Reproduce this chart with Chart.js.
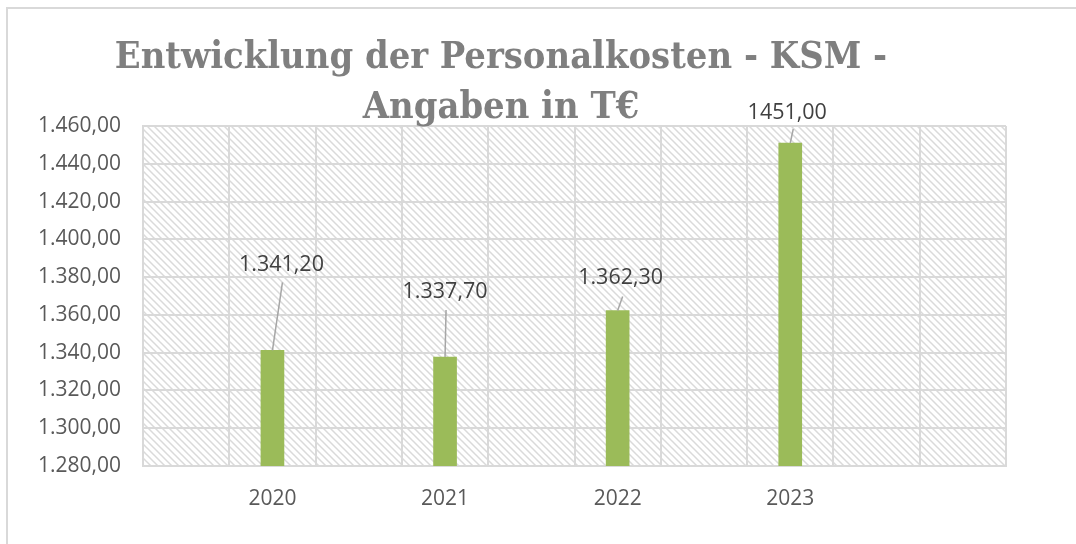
<!DOCTYPE html>
<html>
<head>
<meta charset="utf-8">
<script src="https://cdn.jsdelivr.net/npm/chart.js@4/dist/chart.umd.min.js"></script>
<style>
  html, body { margin: 0; padding: 0; background: #ffffff; overflow: hidden; }
  #wrap { position: relative; width: 1076px; height: 544px; }
</style>
</head>
<body>
<div id="wrap"><canvas id="c"></canvas></div>
<script>
// ---- data ----
const years = ['2020', '2021', '2022', '2023'];
const costs = [1341.2, 1337.7, 1362.3, 1451.0];
const costLabels = ['1.341,20', '1.337,70', '1.362,30', '1451,00'];
const titleLines = ['Entwicklung der Personalkosten - KSM -', 'Angaben in T€'];
const yMin = 1280, yMax = 1460, yStep = 20;

// category slots: each year sits in the second half of a two-slot group
const slotLabels = [];
const slotValues = [];
years.forEach((y, i) => { slotLabels.push(''); slotValues.push(null); slotLabels.push(y); slotValues.push(costs[i]); });
slotLabels.push('', ''); slotValues.push(null, null);

function fmtDE(v) {
  const fixed = v.toFixed(2);
  let [int, dec] = fixed.split('.');
  int = int.replace(/\B(?=(\d{3})+(?!\d))/g, '.');
  return int + ',' + dec;
}

const GRID = '#d9d9d9';
const FONT = "'Open Sans', 'Noto Sans', sans-serif";

// label offsets relative to bar top centre (style/position only)
const labelPos = [
  { dx: 9, dy: -86, sx: 1, sy: 18 },
  { dx: 0, dy: -65, sx: 1, sy: 18 },
  { dx: 3, dy: -33, sx: 2, sy: 19 },
  { dx: -3, dy: -30, sx: 6, sy: 16 }
];

function makePattern() {
  const s = 7;
  const p = document.createElement('canvas');
  p.width = s; p.height = s;
  const g = p.getContext('2d');
  g.fillStyle = '#ffffff';
  g.fillRect(0, 0, s, s);
  g.strokeStyle = '#dadada';
  g.lineWidth = 1.5;
  g.beginPath();
  g.moveTo(0, 0); g.lineTo(s, s);
  g.moveTo(-1, s - 1); g.lineTo(1, s + 1);
  g.moveTo(s - 1, -1); g.lineTo(s + 1, 1);
  g.stroke();
  return p;
}

const bgPlugin = {
  id: 'bg',
  beforeDraw(chart) {
    const { ctx, chartArea: a } = chart;
    ctx.save();
    ctx.fillStyle = '#ffffff';
    ctx.fillRect(0, 0, chart.width, chart.height);
    ctx.fillStyle = ctx.createPattern(makePattern(), 'repeat');
    ctx.fillRect(a.left, a.top, a.right - a.left, a.bottom - a.top);
    // outer chart frame
    ctx.strokeStyle = GRID;
    ctx.lineWidth = 2;
    ctx.beginPath();
    ctx.moveTo(7, chart.height + 2);
    ctx.lineTo(7, 8);
    ctx.lineTo(chart.width + 2, 8);
    ctx.stroke();
    ctx.restore();
  },
  afterDraw(chart) {
    const { ctx } = chart;
    ctx.save();
    // title
    ctx.fillStyle = '#7f7f7f';
    ctx.textAlign = 'center';
    ctx.textBaseline = 'alphabetic';
    const fam = "'DejaVu Serif Condensed', 'Liberation Serif', serif";
    ctx.font = 'bold 36px ' + fam;
    const w = ctx.measureText(titleLines[0]).width;
    const size = Math.min(38, 36 * 772 / w);
    ctx.font = 'bold ' + size.toFixed(1) + 'px ' + fam;
    ctx.fillText(titleLines[0], 501, 68);
    ctx.fillText(titleLines[1], 501, 118);
    ctx.restore();
  }
};

const labelPlugin = {
  id: 'barLabels',
  afterDatasetsDraw(chart) {
    const { ctx } = chart;
    const meta = chart.getDatasetMeta(0);
    let k = 0;
    ctx.save();
    meta.data.forEach((bar, i) => {
      if (slotValues[i] === null) return;
      const p = labelPos[k];
      const lx = bar.x + p.dx, ly = bar.y + p.dy;
      ctx.strokeStyle = '#a6a6a6';
      ctx.lineWidth = 1.5;
      ctx.beginPath();
      ctx.moveTo(lx + p.sx, ly + p.sy);
      ctx.lineTo(bar.x, bar.y);
      ctx.stroke();
      ctx.fillStyle = '#404040';
      ctx.font = '21.5px ' + FONT;
      ctx.textAlign = 'center';
      ctx.textBaseline = 'middle';
      ctx.fillText(costLabels[k], lx, ly);
      k++;
    });
    ctx.restore();
  }
};

new Chart(document.getElementById('c'), {
  type: 'bar',
  data: {
    labels: slotLabels,
    datasets: [{
      data: slotValues,
      backgroundColor: '#9bbb59',
      borderWidth: 0,
      barThickness: 23
    }]
  },
  options: {
    responsive: true,
    maintainAspectRatio: false,
    animation: false,
    devicePixelRatio: 1,
    layout: { padding: { top: 126, right: 70, left: 0, bottom: 0 } },
    plugins: { legend: { display: false }, tooltip: { enabled: false }, title: { display: false } },
    scales: {
      x: {
        type: 'category',
        offset: true,
        grid: { color: GRID, lineWidth: 2, offset: true, drawTicks: false },
        border: { color: GRID, width: 2 },
        ticks: { color: '#595959', font: { family: FONT, size: 21 }, padding: 20, autoSkip: false, maxRotation: 0, minRotation: 0 },
        afterFit(s) { s.height = 78; }
      },
      y: {
        min: yMin, max: yMax,
        grid: { color: GRID, lineWidth: 2, drawTicks: false },
        border: { color: GRID, width: 2 },
        ticks: { stepSize: yStep, color: '#595959', font: { family: FONT, size: 21 }, padding: 22, callback: v => fmtDE(v) },
        afterFit(s) { s.width = 143; }
      }
    }
  },
  plugins: [bgPlugin, labelPlugin]
});
</script>
</body>
</html>
